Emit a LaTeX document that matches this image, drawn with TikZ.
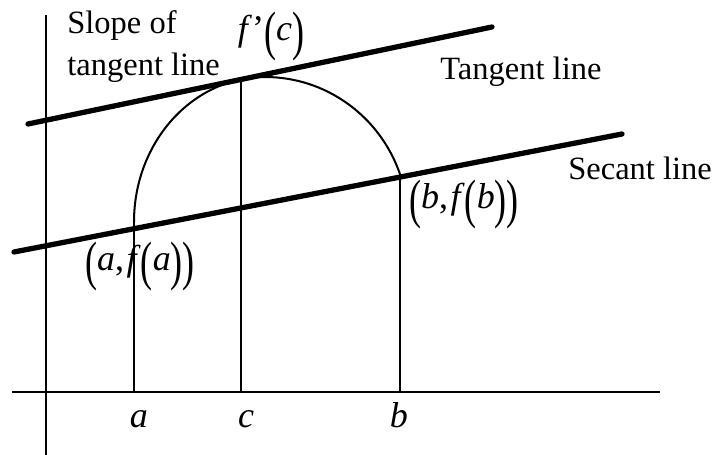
\documentclass[tikz,border=0pt]{standalone}
\usepackage{fontspec}
\setmainfont{Liberation Serif}
\usepackage{graphicx}
\newcommand{\lpar}{\raisebox{-0.26em}{\scalebox{1}[1.5]{(}}}
\newcommand{\rpar}{\raisebox{-0.26em}{\scalebox{1}[1.5]{)}}}
\tikzset{
  thinline/.style={line width=1.15pt},
  thickline/.style={line width=3pt,line cap=round},
  txt/.style={font=\fontsize{18.5}{23.8}\selectfont,inner sep=0pt},
  mth/.style={font=\fontsize{20.5}{24}\selectfont,inner sep=0pt}
}
\begin{document}
\begin{tikzpicture}[x=0.02cm,y=0.02cm]
    \useasboundingbox (0,0) rectangle (714,455);
    \draw[thinline] (12,63) -- (660,63);
    \draw[thinline] (46,0) -- (46,440);
    \coordinate (A) at (134,233);
    \coordinate (C) at (241,375.5);
    \coordinate (B) at (400.3,280);
    \draw[thinline] (A) arc[start angle=180,end angle=90,x radius=131,y radius=145]
      arc[start angle=90,end angle=18.9,x radius=143,y radius=145];
    \draw[thinline] (134,63) -- (A);
    \draw[thinline] (241,63) -- (C);
    \draw[thinline] (400.3,63) -- (B);
    \draw[thickline] (28,331) -- (492,428);
    \draw[thickline] (14,203) -- (622,321);
    \node[txt,anchor=north west,align=left] (slope) at (67,445) {Slope of\\tangent line};
    \node[mth] (fc) at (271,418) {\textit{f}’\lpar\textit{c}\rpar};
    \node[txt,anchor=base west] (tanlbl) at (440,375) {Tangent line};
    \node[txt,anchor=base west] (seclbl) at (568,275) {Secant line};
    \node[mth] (pa) at (140,188) {\lpar\textit{a},\kern1.5pt\textit{f}\lpar\textit{a}\rpar\rpar};
    \node[mth] (pb) at (464,250) {\lpar\textit{b},\kern1.5pt\textit{f}\lpar\textit{b}\rpar\rpar};
    \node[mth,anchor=base] (xa) at (139,27) {\textit{a}};
    \node[mth,anchor=base] (xc) at (246,27) {\textit{c}};
    \node[mth,anchor=base] (xb) at (399,27) {\textit{b}};
\end{tikzpicture}
\end{document}
